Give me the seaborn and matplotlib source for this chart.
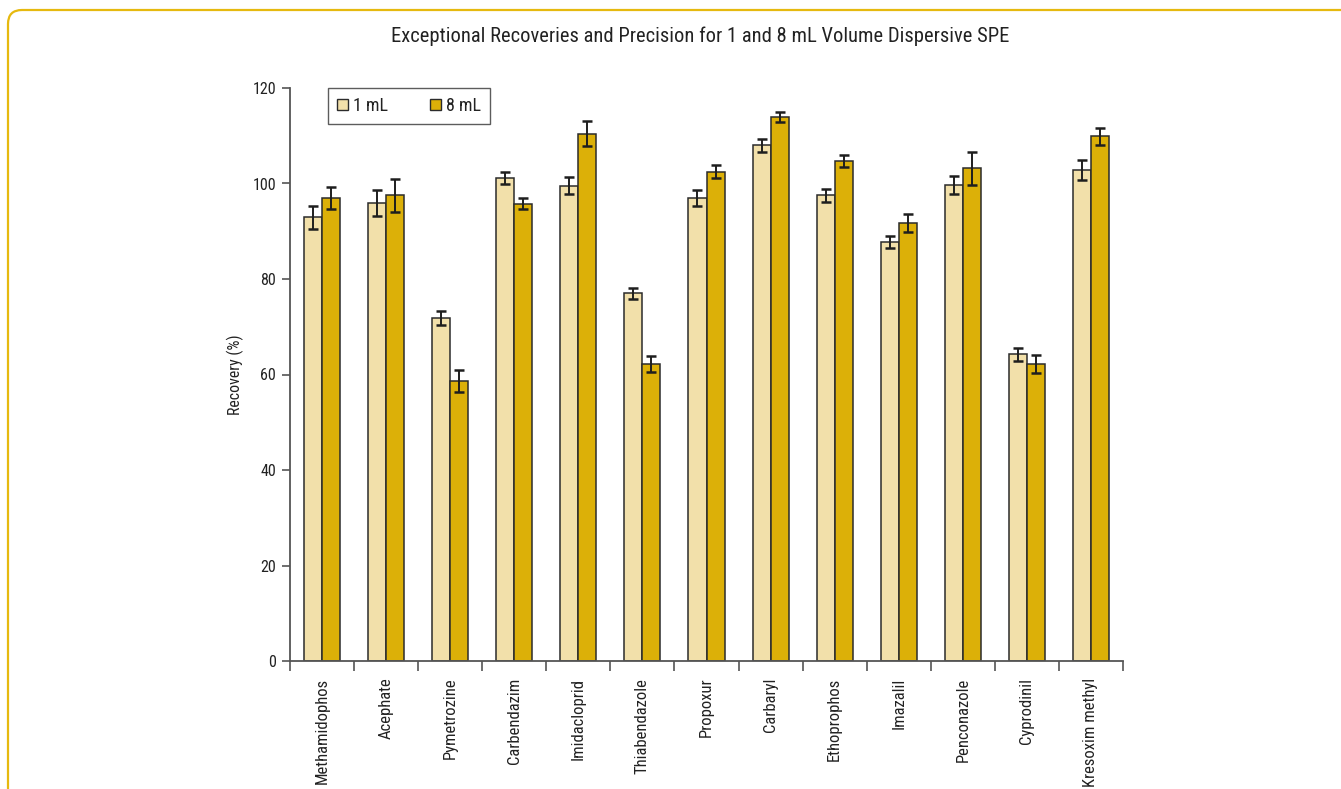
import matplotlib
matplotlib.use("Agg")
import matplotlib.pyplot as plt
from matplotlib.patches import Patch, FancyBboxPatch
from matplotlib.transforms import IdentityTransform
from matplotlib.ticker import FixedLocator
import numpy as np
import pandas as pd
import seaborn as sns

# Pesticide compounds on the x axis
compounds = ["Methamidophos", "Acephate", "Pymetrozine", "Carbendazim", "Imidacloprid",
             "Thiabendazole", "Propoxur", "Carbaryl", "Ethoprophos", "Imazalil",
             "Penconazole", "Cyprodinil", "Kresoxim methyl"]
volumes = ["1 mL", "8 mL"]

# Mean recoveries (%) and their standard deviations
recovery_1ml = [92.9, 95.9, 71.9, 101.1, 99.5, 77.0, 97.0, 108.0, 97.5, 87.8, 99.7, 64.2, 102.8]
recovery_8ml = [96.9, 97.5, 58.6, 95.8, 110.4, 62.2, 102.5, 113.9, 104.7, 91.8, 103.2, 62.2, 109.9]
sd_1ml = [2.4, 2.7, 1.5, 1.3, 1.8, 1.2, 1.7, 1.3, 1.3, 1.3, 1.8, 1.4, 2.1]
sd_8ml = [2.3, 3.5, 2.3, 1.2, 2.6, 1.6, 1.4, 1.1, 1.3, 1.9, 3.5, 1.8, 1.8]

y_ticks = [0, 20, 40, 60, 80, 100, 120]

light = "#F2E0AA"
gold = "#DCB008"
edge = "#2b2b2b"
frame = "#E6B90F"
ink = "#222222"

sns.set_theme(style="white")
plt.rcParams["font.family"] = ["Roboto Condensed", "DejaVu Sans"]

df = pd.DataFrame({
    "Compound": compounds * 2,
    "Volume": [volumes[0]] * len(compounds) + [volumes[1]] * len(compounds),
    "Recovery": recovery_1ml + recovery_8ml,
    "SD": sd_1ml + sd_8ml,
})

fig = plt.figure(figsize=(13.41, 7.89), dpi=100)
ax = fig.add_axes([290 / 1341, 1 - 661 / 789, 833 / 1341, 573 / 789])

sns.barplot(data=df, x="Compound", y="Recovery", hue="Volume", order=compounds,
            hue_order=volumes, palette=[light, gold], width=0.5625, errorbar=None,
            edgecolor=edge, linewidth=1.1, legend=False, ax=ax, saturation=1)

# Error bars drawn at the centre of each seaborn bar
for container, sds in zip(ax.containers, [sd_1ml, sd_8ml]):
    xs = [b.get_x() + b.get_width() / 2 for b in container]
    ys = [b.get_height() for b in container]
    ax.errorbar(xs, ys, yerr=sds, fmt="none", ecolor="#1e1e1e", elinewidth=1.4,
                capsize=3.4, capthick=1.8, zorder=5)

ax.set_ylim(0, 120)
ax.set_xlim(-0.5, len(compounds) - 0.5)
ax.set_yticks(y_ticks)
ax.set_yticklabels([str(t) for t in y_ticks])
ax.set_xlabel("")
ax.set_ylabel("Recovery (%)", fontsize=11.4, color=ink)
ax.yaxis.set_label_coords(-46 / 833, 0.5)

# Tick marks sit between compound groups; labels are centred on the groups
ax.xaxis.set_minor_locator(FixedLocator(np.arange(-0.5, len(compounds), 1.0)))
ax.tick_params(axis="x", which="major", length=0, pad=12, labelsize=12,
               labelcolor=ink, labelrotation=90)
ax.tick_params(axis="x", which="minor", bottom=True, length=7, width=1.2, color="#555555")
ax.tick_params(axis="y", which="major", left=True, length=6, width=1.2, color="#555555",
               pad=4, labelsize=11.5, labelcolor=ink)

for side in ["top", "right"]:
    ax.spines[side].set_visible(False)
for side in ["left", "bottom"]:
    ax.spines[side].set_color("#555555")
    ax.spines[side].set_linewidth(1.3)

handles = [Patch(facecolor=light, edgecolor=edge, linewidth=1.0, label=volumes[0]),
           Patch(facecolor=gold, edgecolor=edge, linewidth=1.0, label=volumes[1])]
leg = ax.legend(handles=handles, loc="upper left", bbox_to_anchor=(38 / 833, 1.0),
                borderaxespad=0, ncol=2, fontsize=13, frameon=True, fancybox=False,
                handlelength=0.6, handleheight=0.6, handletextpad=0.3,
                columnspacing=2.3, borderpad=0.5)
leg.get_frame().set_edgecolor("#333333")
leg.get_frame().set_linewidth(1.0)
for t in leg.get_texts():
    t.set_color(ink)

fig.text(700 / 1341, 1 - 36 / 789,
         "Exceptional Recoveries and Precision for 1 and 8 mL Volume Dispersive SPE",
         ha="center", va="center", fontsize=14.8, color=ink)

# Rounded page frame, open to the right and bottom edges
page = FancyBboxPatch((8, -40), 1400, 789 - 10 + 40,
                      boxstyle="round,pad=0,rounding_size=14",
                      transform=IdentityTransform(), facecolor="none",
                      edgecolor=frame, linewidth=1.6)
fig.add_artist(page)

fig.savefig("out.png", dpi=100)
